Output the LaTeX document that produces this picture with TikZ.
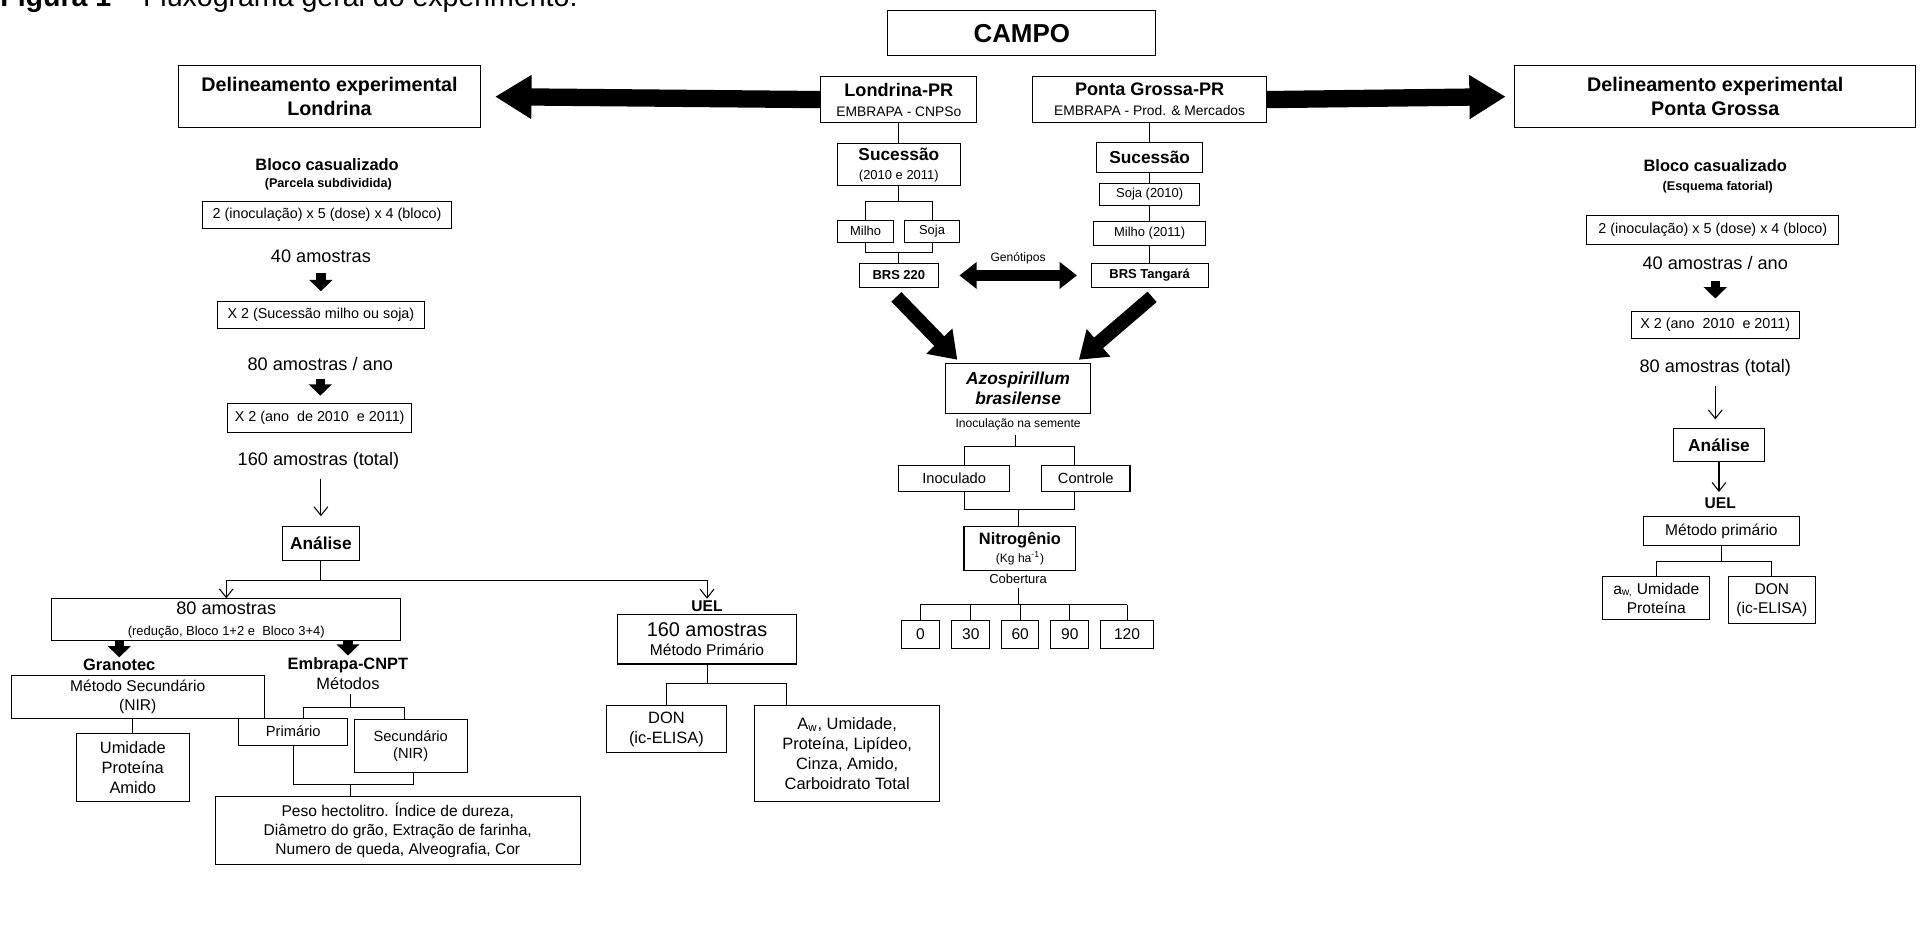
\documentclass[tikz,border=0pt]{standalone}
\usepackage{fontspec}
\setmainfont{Liberation Sans}
\usetikzlibrary{arrows.meta,calc}
\newlength{\un}
\setlength{\un}{0.025cm}
\newcommand*{\fsz}[2]{\fontsize{#1}{#2}\selectfont}

\tikzset{
  box/.style={draw, line width=0.6pt, inner sep=0pt, align=center},
  txt/.style={inner sep=0pt, align=center},
  link/.style={line width=0.6pt},
  thinarrow/.style={line width=0.6pt, -{Straight Barb[length=5pt,width=8pt]}},
  fatarrow/.style={line width=10pt, -{Triangle[length=21pt,width=24pt]}},
  diagarrow/.style={line width=8pt, -{Triangle[length=15pt,width=20pt]}},
  downarrow/.style={line width=5.5pt, -{Triangle[length=6.5pt,width=13pt]}},
  duoarrow/.style={line width=6pt, {Triangle[length=10pt,width=15pt]}-{Triangle[length=10pt,width=15pt]}},
}

\begin{document}
\begin{tikzpicture}[x=\un, y=-\un, font=\fsz{8.3}{10}]
\useasboundingbox (0,0) rectangle (1568,759);

% legenda (cortada no topo)
\node[txt, anchor=base west, font=\fsz{16.5}{20}] (cap) at (0,5) {\textbf{Figura 1} – Fluxograma geral do experimento.};

% topo
\node[box, minimum width=218\un, minimum height=37\un, font=\bfseries\fsz{15}{18}] (campo) at (831,27) {CAMPO};
\node[box, minimum width=246\un, minimum height=51\un, font=\bfseries\fsz{11.4}{14}] (dell) at (268,78.5) {Delineamento experimental\\Londrina};
\node[box, minimum width=127\un, minimum height=38\un, font=\fsz{9}{11.5}] (lond) at (731,81) {{\bfseries\fsz{10.5}{12}Londrina-PR}\\{\fsz{8}{9}EMBRAPA - CNPSo}};
\node[box, minimum width=190\un, minimum height=38\un, font=\fsz{9}{11.5}] (pg) at (935,81) {{\bfseries\fsz{10.5}{12}Ponta Grossa-PR}\\{\fsz{8}{9}EMBRAPA - Prod. \& Mercados}};
\node[box, minimum width=326\un, minimum height=51\un, font=\bfseries\fsz{11.4}{14}] (delpg) at (1395,78.5) {Delineamento experimental\\Ponta Grossa};
\draw[fatarrow, shorten >=8pt] (lond.west) -- (dell.east);
\draw[fatarrow, shorten >=5pt] (pg.east) -- (delpg.west);

% coluna Londrina
\node[box, minimum width=100\un, minimum height=34\un, font=\fsz{9}{11}] (sucl) at (731,134) {{\bfseries\fsz{10}{12}Sucessão}\\{\fsz{7.5}{9}(2010 e 2011)}};
\node[box, minimum width=45\un, minimum height=18\un, font=\fsz{7.5}{9}] (milho) at (704,188) {Milho};
\node[box, minimum width=45\un, minimum height=18\un, font=\fsz{7.5}{9}] (soja) at (758,188) {Soja};
\node[box, minimum width=64\un, minimum height=20\un, font=\bfseries\fsz{7.5}{9}] (brsl) at (731,224) {BRS 220};
\coordinate (ja) at (731,164);
\coordinate (jb) at (731,205);
\draw[link] (lond.south) -- (sucl.north);
\draw[link] (sucl.south) -- (ja);
\draw[link] (milho.north) |- (ja) -| (soja.north);
\draw[link] (milho.south) |- (jb) -| (soja.south);
\draw[link] (jb) -- (brsl.north);

% coluna Ponta Grossa
\node[box, minimum width=86\un, minimum height=24\un, font=\bfseries\fsz{10}{12}] (sucpg) at (935,128) {Sucessão};
\node[box, minimum width=81\un, minimum height=18\un, font=\fsz{7.5}{9}] (soja10) at (935,158) {Soja (2010)};
\node[box, minimum width=91\un, minimum height=20\un, font=\fsz{7.5}{9}] (milho11) at (935,190) {Milho (2011)};
\node[box, minimum width=95\un, minimum height=20\un, font=\bfseries\fsz{7.5}{9}] (brspg) at (935,224) {BRS Tangará};
\draw[link] (pg.south) -- (sucpg.north);
\draw[link] (sucpg.south) -- (soja10.north);
\draw[link] (soja10.south) -- (milho11.north);
\draw[link] (milho11.south) -- (brspg.north);

\draw[duoarrow, shorten <=12pt, shorten >=8pt] (brsl.east) -- (brspg.west);
\node[txt, font=\fsz{7}{8.5}] (genot) at (828,210) {Genótipos};

% inoculacao
\node[box, minimum width=118\un, minimum height=40\un, font=\bfseries\itshape\fsz{10}{11.5}] (azo) at (828,316) {Azospirillum\\brasilense};
\draw[diagarrow] ([shift={(-2,7)}]brsl.south) -- ([shift={(10,-3)}]azo.north west);
\draw[diagarrow] ([shift={(2,7)}]brspg.south) -- ([shift={(-10,-3)}]azo.north east);
\node[txt, font=\fsz{7}{8.5}] (inoc) at (828,345) {Inoculação na semente};
\node[box, minimum width=90\un, minimum height=21\un, font=\fsz{8.5}{10}] (inocl) at (776,389) {Inoculado};
\node[box, minimum width=72\un, minimum height=21\un, font=\fsz{8.5}{10}] (ctrl) at (883,389) {Controle};
\coordinate (jc) at (826,363);
\coordinate (jd) at (828,414);
\draw[link, shorten <=3pt] (jc |- inoc.south) -- (jc);
\draw[link] ([xshift=8.7\un]inocl.north) |- (jc) -| ([xshift=-9\un]ctrl.north);
\draw[link] ([xshift=8.7\un]inocl.south) |- (jd) -| ([xshift=-9\un]ctrl.south);
\node[box, minimum width=91\un, minimum height=36\un, font=\fsz{9}{10.5}] (nitro) at (829.5,446) {{\bfseries\fsz{9.5}{11}Nitrogênio}\\{\fsz{7}{8.5}(Kg ha\textsuperscript{-1})}};
\draw[link] (jd) -- (jd |- nitro.north);
\node[txt, font=\fsz{7.5}{9}] (cob) at (828,471) {Cobertura};
\coordinate (je) at (828,492);
\draw[link, shorten <=2pt] (je |- cob.south) -- (je);
\foreach \v/\xx/\w in {0/748.5/31, 30/789.5/31, 60/829.7/30, 90/870/31, 120/916.6/42.6} {
  \node[box, minimum width=\w\un, minimum height=23\un, font=\fsz{9}{11}] (n\v) at (\xx,516) {\v};
  \draw[link] (n\v.north) -- (n\v.north |- je);
}
\draw[link] (n0.north |- je) -- (n120.north |- je);

% coluna esquerda (Londrina)
\node[txt, font=\bfseries\fsz{9.5}{11}] (blocl) at (266,134) {Bloco casualizado};
\node[txt, font=\bfseries\fsz{7.3}{9}] (parcl) at (267,150) {(Parcela subdividida)};
\node[box, minimum width=203\un, minimum height=22\un] (bl1) at (266,175) {2 (inoculação) x 5 (dose) x 4 (bloco)};
\node[txt, font=\fsz{10.5}{12}] (a40) at (261,208) {40 amostras};
\node[box, minimum width=169\un, minimum height=22\un] (bl2) at (261,256) {X 2 (Sucessão milho ou soja)};
\node[txt, font=\fsz{10.5}{12}] (a80) at (260.5,296) {80 amostras / ano};
\node[box, minimum width=150\un, minimum height=23\un] (bl3) at (260,340) {X 2 (ano\ \ de 2010\ \ e 2011)};
\node[txt, font=\fsz{10.5}{12}] (a160) at (259,375) {160 amostras (total)};
\node[box, minimum width=63\un, minimum height=28\un, font=\bfseries\fsz{10}{12}] (anl) at (261,442) {Análise};
\draw[downarrow, shorten <=6pt, shorten >=5.5pt] (a40.south) -- (a40.south |- bl2.north);
\draw[downarrow, shorten <=4.5pt, shorten >=4.5pt] (a80.south) -- (a80.south |- bl3.north);
\draw[thinarrow, shorten <=5pt, shorten >=5.5pt] (anl.north |- a160.south) -- (anl.north);
\coordinate (jf) at (261,472);
\draw[link] (anl.south) -- (jf);
\node[box, minimum width=284\un, minimum height=34\un, font=\fsz{10.5}{12}] (am80) at (184,504) {80 amostras\\{\fsz{7.5}{9}(redução, Bloco 1+2 e\ \ Bloco 3+4)}};
\node[txt, font=\bfseries\fsz{9}{11}] (uel) at (575,493) {UEL};
\draw[thinarrow] (jf) -| (am80.north);
\draw[thinarrow, shorten >=1pt] (jf) -| (uel.north);

% Granotec / Embrapa
\node[txt, font=\bfseries\fsz{9.5}{11}] (gran) at (97,541) {Granotec};
\node[txt, font=\bfseries\fsz{9.5}{11}] (embr) at (283,541) {Embrapa-CNPT};
\node[txt, font=\fsz{9.5}{11}] (metd) at (283,556) {Métodos};
\draw[downarrow, shorten >=1pt] (gran.north |- am80.south) -- (gran.north);
\draw[downarrow, shorten >=1pt] (embr.north |- am80.south) -- (embr.north);
\node[box, minimum width=206\un, minimum height=35\un, font=\fsz{9}{11}] (msec) at (112,567) {Método Secundário\\(NIR)};
\node[box, minimum width=92\un, minimum height=55\un, font=\fsz{9.5}{11.5}] (umid) at (108,624) {Umidade\\Proteína\\Amido};
\draw[link] (umid.north |- msec.south) -- (umid.north);
\node[box, minimum width=89\un, minimum height=22\un, font=\fsz{8.5}{10}] (prim) at (238.5,595) {Primário};
\node[box, minimum width=92\un, minimum height=43\un, font=\fsz{8.5}{10}] (secu) at (334,606.5) {Secundário\\(NIR)};
\coordinate (jg) at (285,575);
\coordinate (jh) at (285,638);
\draw[link, shorten <=2pt] (jg |- metd.south) -- (jg);
\draw[link] ([xshift=8.5\un]prim.north) |- (jg) -| ([xshift=-5\un]secu.north);
\draw[link] (prim.south) |- (jh) -| ([xshift=2\un]secu.south);
\node[box, minimum width=297\un, minimum height=55\un, font=\fsz{9}{11}] (peso) at (323.5,675.5) {Peso hectolitro. Índice de dureza,\\Diâmetro do grão, Extração de farinha,\\Numero de queda, Alveografia, Cor};
\draw[link] (jh) -- (jh |- peso.north);

% UEL
\node[box, minimum width=145\un, minimum height=40\un, font=\fsz{9}{11}] (uelb) at (575,520) {{\fsz{11.5}{13}160 amostras}\\Método Primário};
\coordinate (ji) at (575,556);
\draw[link] (uelb.south) -- (ji);
\node[box, minimum width=97\un, minimum height=38\un, font=\fsz{9.5}{11.5}] (don) at (542,593) {DON\\(ic-ELISA)};
\node[box, minimum width=150\un, minimum height=78\un, font=\fsz{9.5}{11.5}] (aw) at (689,613) {A\textsubscript{w}, Umidade,\\Proteína, Lipídeo,\\Cinza, Amido,\\Carboidrato Total};
\draw[link] (don.north) |- (ji) -| ([xshift=-49.5\un]aw.north);

% coluna direita (Ponta Grossa)
\node[txt, font=\bfseries\fsz{9.5}{11}] (blocr) at (1395,135) {Bloco casualizado};
\node[txt, font=\bfseries\fsz{7.3}{9}] (esq) at (1397,152) {(Esquema fatorial)};
\node[box, minimum width=205\un, minimum height=23\un] (br1) at (1393,187) {2 (inoculação) x 5 (dose) x 4 (bloco)};
\node[txt, font=\fsz{10.5}{12}] (a40y) at (1395,214) {40 amostras / ano};
\node[box, minimum width=137\un, minimum height=22\un] (br2) at (1395,264) {X 2 (ano\ \ 2010\ \ e 2011)};
\node[txt, font=\fsz{10.5}{12}] (a80t) at (1395,299) {80 amostras (total)};
\node[box, minimum width=74\un, minimum height=27\un, font=\bfseries\fsz{10}{12}] (anr) at (1398,362) {Análise};
\node[txt, font=\bfseries\fsz{9}{11}] (uelr) at (1399,409) {UEL};
\node[box, minimum width=127\un, minimum height=24\un, font=\fsz{9}{11}] (mprim) at (1400,432) {Método primário};
\node[box, minimum width=87\un, minimum height=35\un, font=\fsz{9}{11}] (awr) at (1347,486.5) {a\textsubscript{w,} Umidade\\Proteína};
\node[box, minimum width=71\un, minimum height=38\un, font=\fsz{9}{11}] (donr) at (1441,488) {DON\\(ic-ELISA)};
\draw[downarrow, shorten <=6pt, shorten >=7pt] (a40y.south) -- (a40y.south |- br2.north);
\draw[thinarrow, shorten <=5.5pt, shorten >=5pt] (a80t.south) -- (a80t.south |- anr.north);
\draw[thinarrow, shorten >=3pt] (anr.south) -- (anr.south |- uelr.north);
\coordinate (jj) at (1400,457);
\draw[link] (mprim.south) -- (jj);
\draw[link] (awr.north) |- (jj) -| (donr.north);

\end{tikzpicture}
\end{document}
